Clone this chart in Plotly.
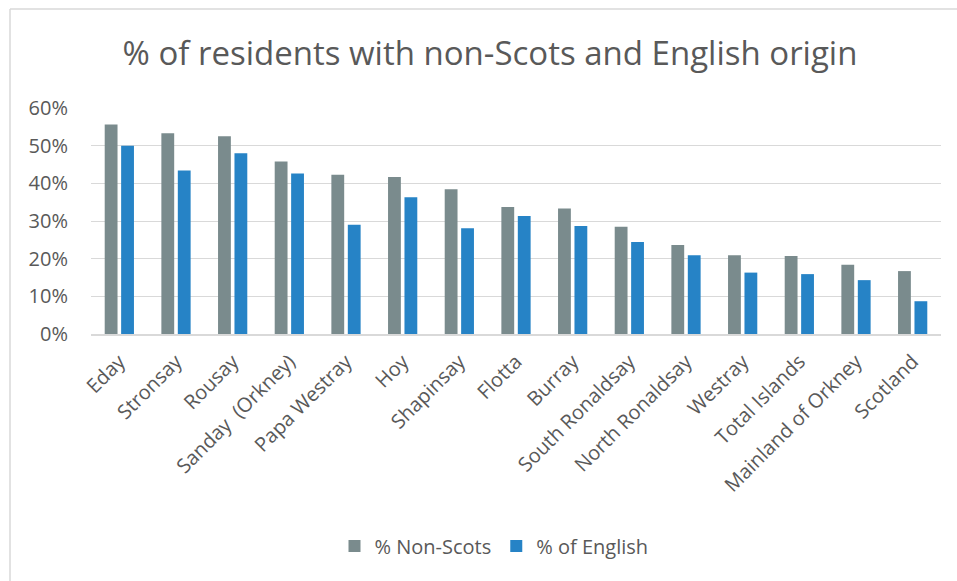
import plotly.graph_objects as go

categories = ["Eday", "Stronsay", "Rousay", "Sanday  (Orkney)", "Papa Westray", "Hoy",
              "Shapinsay", "Flotta", "Burray", "South Ronaldsay", "North Ronaldsay",
              "Westray", "Total Islands", "Mainland of Orkney", "Scotland"]
non_scots = [0.556, 0.533, 0.525, 0.458, 0.423, 0.417, 0.384, 0.337, 0.333, 0.285,
             0.236, 0.209, 0.207, 0.184, 0.167]
english = [0.500, 0.434, 0.480, 0.426, 0.290, 0.363, 0.281, 0.313, 0.287, 0.244,
           0.209, 0.163, 0.159, 0.143, 0.087]
y_ticks = [0, 0.1, 0.2, 0.3, 0.4, 0.5, 0.6]

GRAY = "#7A8B8D"
BLUE = "#2683C6"
TXT = "#595959"
FONT = "Open Sans"

fig = go.Figure()
fig.add_trace(go.Bar(x=categories, y=non_scots, name="% Non-Scots",
                     marker=dict(color=GRAY, line=dict(width=0))))
fig.add_trace(go.Bar(x=categories, y=english, name="% of English",
                     marker=dict(color=BLUE, line=dict(width=0))))

W, H = 957, 581
L, R, T, B = 91, 16, 108, 247
pw, ph = W - L - R, H - T - B

def px(x):
    return (x - L) / pw

def py(y):
    return (H - B - y) / ph

fig.update_layout(
    width=W, height=H,
    margin=dict(l=L, r=R, t=T, b=B, pad=0),
    paper_bgcolor="white", plot_bgcolor="white",
    barmode="group", bargap=0.42, bargroupgap=0.22,
    font=dict(family=FONT, color=TXT, size=20),
    title=dict(text="% of residents with non-Scots and English origin",
               x=(490 - 0) / W, xanchor="center", y=1 - 53 / H, yanchor="middle",
               font=dict(family=FONT, size=33, color=TXT)),
    showlegend=True,
    legend=dict(orientation="h", x=px(494), xanchor="center", y=py(546), yanchor="middle",
                font=dict(family=FONT, size=20, color=TXT), itemwidth=30,
                traceorder="normal"),
    xaxis=dict(showgrid=False, showline=True, linecolor="#D9D9D9", linewidth=2,
               tickangle=-45, ticks="", tickfont=dict(size=20, color=TXT),
               ticklabelstandoff=6),
    yaxis=dict(range=[0, 0.6], tickvals=y_ticks, tickformat=".0%",
               showgrid=True, gridcolor="#D9D9D9", gridwidth=1,
               zeroline=False, showline=False, ticks="",
               tickfont=dict(size=20, color=TXT), ticklabelstandoff=22),
    shapes=[
        dict(type="line", xref="paper", yref="paper", x0=px(10), x1=px(957),
             y0=py(9), y1=py(9), line=dict(color="#D9D9D9", width=1.5)),
        dict(type="line", xref="paper", yref="paper", x0=px(10), x1=px(10),
             y0=py(9), y1=py(581), line=dict(color="#D9D9D9", width=1.5)),
    ],
)

fig.write_html("out.html")
